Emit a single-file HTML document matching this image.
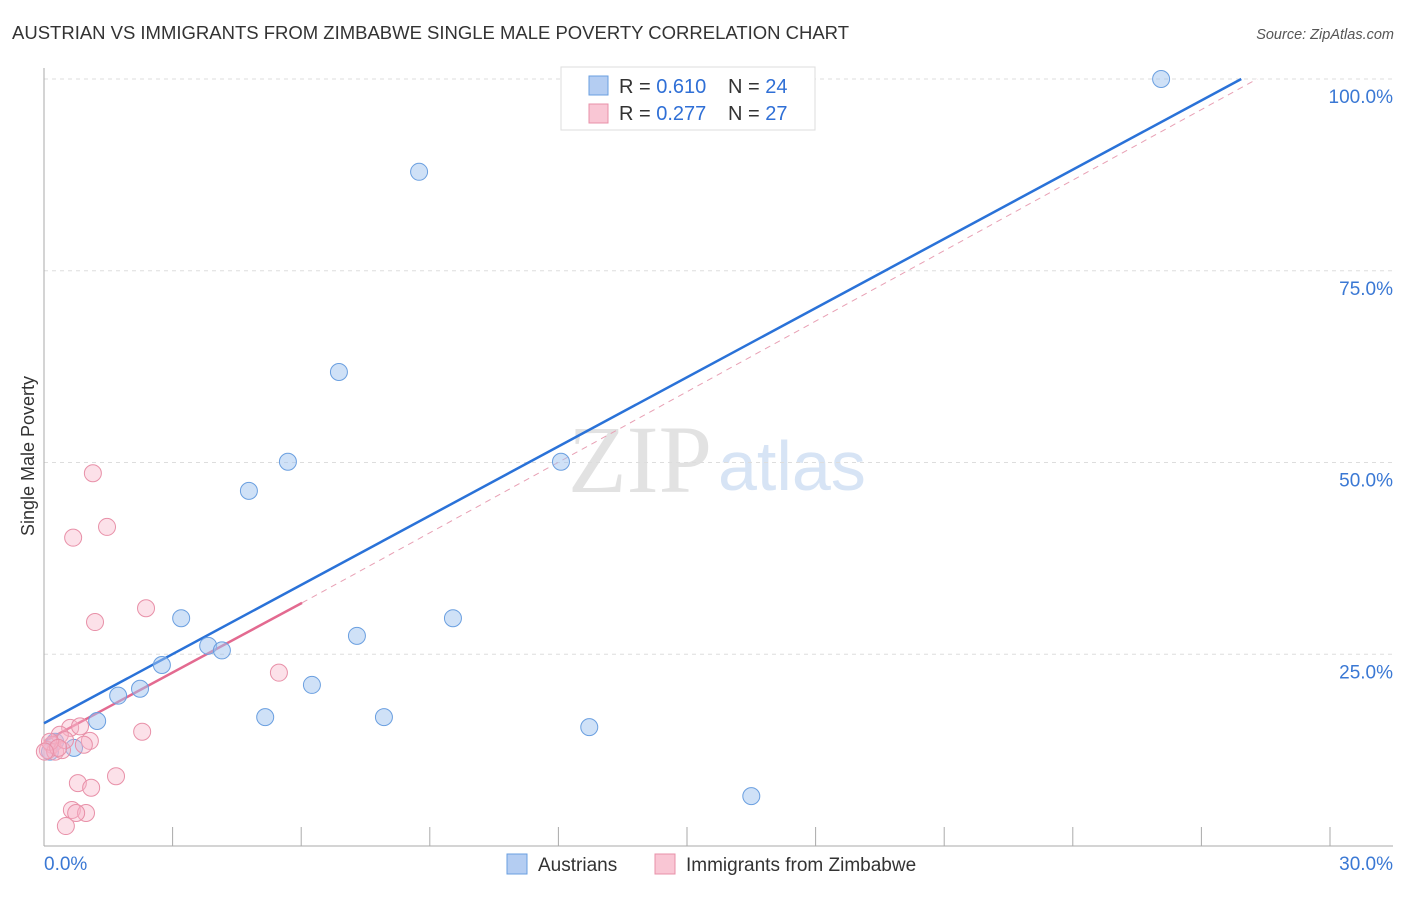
<!DOCTYPE html>
<html><head><meta charset="utf-8"><style>
body{margin:0;background:#fff;font-family:"Liberation Sans",sans-serif}
</style></head><body>
<svg id="c" width="1406" height="892" font-family="Liberation Sans, sans-serif">
<text x="12" y="39" font-size="18.5" fill="#333" textLength="837">AUSTRIAN VS IMMIGRANTS FROM ZIMBABWE SINGLE MALE POVERTY CORRELATION CHART</text>
<text x="1394" y="39" font-size="14.5" fill="#555" text-anchor="end" font-style="italic">Source: ZipAtlas.com</text>
<text x="712" y="492" font-size="96" fill="#e2e2e2" text-anchor="end" style="font-family:'Liberation Serif',serif">ZIP</text>
<text x="718" y="490" font-size="70" fill="#d7e4f5">atlas</text>
<g id="grid"></g><g id="axes"></g>
<text transform="translate(34,456) rotate(-90)" font-size="18" fill="#333" text-anchor="middle">Single Male Poverty</text>
<g id="lines"></g><g id="pts"></g>
<g>
<rect x="561" y="67" width="254" height="63" fill="#fff" stroke="#ddd"/>
<rect x="589" y="76" width="19" height="19" fill="#b4cdf2" stroke="#6a9fe0"/>
<rect x="589" y="104" width="19" height="19" fill="#f9c6d4" stroke="#e890a8"/>
<text x="619" y="93" font-size="20" fill="#333">R = <tspan fill="#2f6fd6">0.610</tspan></text>
<text x="728" y="93" font-size="20" fill="#333">N = <tspan fill="#2f6fd6">24</tspan></text>
<text x="619" y="120" font-size="20" fill="#333">R = <tspan fill="#2f6fd6">0.277</tspan></text>
<text x="728" y="120" font-size="20" fill="#333">N = <tspan fill="#2f6fd6">27</tspan></text>
</g>
<g>
<rect x="507" y="854" width="20" height="20" fill="#b4cdf2" stroke="#6a9fe0"/>
<text x="538" y="871" font-size="19" fill="#333">Austrians</text>
<rect x="655" y="854" width="20" height="20" fill="#f9c6d4" stroke="#e890a8"/>
<text x="686" y="871" font-size="19" fill="#333">Immigrants from Zimbabwe</text>
</g>
</svg>
<script>
const xTicks=["0.0%","30.0%"];
const yTicks=[25,50,75,100];
const blueX=[26.06,14.95,8.75,6.88,5.69,4.78,12.06,3.20,3.83,4.15,2.75,2.24,1.73,1.24,0.70,0.26,7.30,9.54,6.25,5.16,7.93,12.72,16.50,0.14];
const blueY=[100,100,87.9,61.8,50.1,46.3,50.1,29.7,26.1,25.5,23.6,20.5,19.6,16.3,12.8,13.6,27.4,29.7,21.0,16.8,16.8,15.5,6.5,12.3];
const pinkX=[1.14,1.47,0.68,2.38,1.19,5.48,2.29,1.07,0.61,0.84,1.68,0.79,1.10,0.65,0.98,0.75,0.51,0.37,0.19,0.09,0.26,0.42,0.49,0.14,0.33,0.02,0.93];
const pinkY=[48.6,41.6,40.2,31.0,29.2,22.6,14.9,13.7,15.4,15.6,9.1,8.2,7.6,4.7,4.3,4.3,2.6,14.5,13.2,12.5,12.3,12.5,13.8,13.6,12.8,12.3,13.2];
const blueLine=[[0,16.0],[27.93,100]];
const pinkLine=[[0,13.6],[6.02,31.7]];
const pinkDash=[[6.02,31.7],[28.3,100]];
const NS="http://www.w3.org/2000/svg";
const X=v=>44+v/30*1286, Y=v=>846-v/100*767;
function mk(t,a,p){const e=document.createElementNS(NS,t);for(const k in a)e.setAttribute(k,a[k]);document.getElementById(p).appendChild(e);return e;}
yTicks.forEach(t=>{
 const g=mk('line',{x1:44,x2:1393,y1:Y(t),y2:Y(t),stroke:'#ddd','stroke-dasharray':'4,4'},'grid');
 
 
 const tx=mk('text',{x:1393,y:Y(t)+24,'font-size':19,fill:'#3a78d4','text-anchor':'end'},'axes');
 tx.textContent=t.toFixed(1)+'%';
 
 
});
mk('line',{x1:44,x2:44,y1:68,y2:846,stroke:'#aaa'},'axes');
mk('line',{x1:44,x2:1393,y1:846,y2:846,stroke:'#aaa'},'axes');
for(let i=1;i<=10;i++){const l=mk('line',{x1:X(i*3),x2:X(i*3),y1:827,y2:846,stroke:'#aaa'},'axes');
 
 }
const t0=mk('text',{x:44,y:870,'font-size':19,fill:'#3a78d4'},'axes');t0.textContent=xTicks[0];


const t1=mk('text',{x:1393,y:870,'font-size':19,fill:'#3a78d4','text-anchor':'end'},'axes');t1.textContent=xTicks[1];


const d=mk('line',{x1:X(pinkDash[0][0]),y1:Y(pinkDash[0][1]),x2:X(pinkDash[1][0]),y2:Y(pinkDash[1][1]),stroke:'#e8a0b4','stroke-dasharray':'6,5'},'lines');


const bl=mk('line',{x1:X(blueLine[0][0]),y1:Y(blueLine[0][1]),x2:X(blueLine[1][0]),y2:Y(blueLine[1][1]),stroke:'#2a72d8','stroke-width':2.5},'lines');


const pl=mk('line',{x1:X(pinkLine[0][0]),y1:Y(pinkLine[0][1]),x2:X(pinkLine[1][0]),y2:Y(pinkLine[1][1]),stroke:'#e36a90','stroke-width':2.5},'lines');


blueX.forEach((v,i)=>{const c=mk('circle',{cx:X(v),cy:Y(blueY[i]),r:8.5,fill:'rgba(160,195,240,0.5)',stroke:'#6a9fe0'},'pts');
 
 });
pinkX.forEach((v,i)=>{const c=mk('circle',{cx:X(v),cy:Y(pinkY[i]),r:8.5,fill:'rgba(248,180,200,0.4)',stroke:'#e890a8'},'pts');
 
 });
</script>
</body></html>
